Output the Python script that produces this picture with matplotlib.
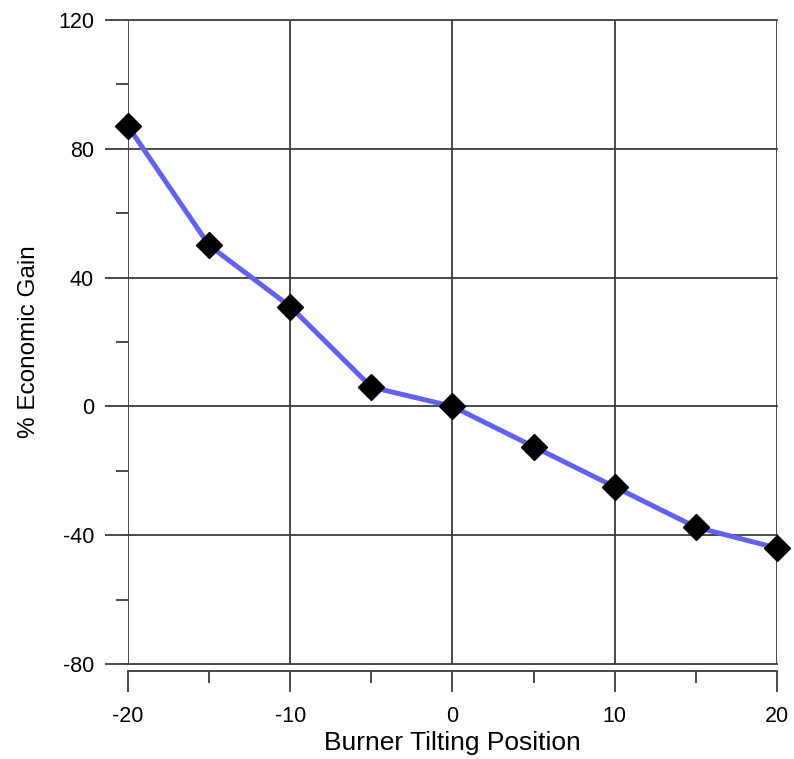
import matplotlib
matplotlib.use('Agg')
import matplotlib.pyplot as plt
from matplotlib.ticker import MultipleLocator

# burner tilt vs economic gain
tilt = [-20, -15, -10, -5, 0, 5, 10, 15, 20]
gain = [87, 50, 31, 6, 0, -12.5, -25, -37.5, -44]

plt.rcParams['font.family'] = ['Liberation Sans', 'DejaVu Sans']
plt.rcParams['axes.unicode_minus'] = False
grid_col = '#3c3c3c'

fig = plt.figure(figsize=(7.94, 7.59), dpi=100)
ax = fig.add_axes([128/794, 1 - 664/759, (777 - 128)/794, (664 - 20)/759])

ax.plot(tilt, gain, color='#6262ee', lw=3.6, zorder=3,
        marker='D', ms=13, mfc='black', mec='black', clip_on=False)

ax.set_xlim(-20, 20)
ax.set_ylim(-80, 120)
ax.xaxis.set_major_locator(MultipleLocator(10))
ax.xaxis.set_minor_locator(MultipleLocator(5))
ax.yaxis.set_major_locator(MultipleLocator(40))
ax.yaxis.set_minor_locator(MultipleLocator(20))

ax.grid(True, which='major', color=grid_col, lw=1.3)
for gl in ax.get_xgridlines() + ax.get_ygridlines():
    gl.set_clip_on(False)

for s in ['top', 'right', 'left']:
    ax.spines[s].set_visible(False)
ax.spines['bottom'].set_position(('outward', 5))
ax.spines['bottom'].set_color(grid_col)
ax.spines['bottom'].set_linewidth(1.3)

ax.tick_params(axis='x', which='major', length=15, width=1.3, color=grid_col,
               labelsize=15.5, pad=10)
ax.tick_params(axis='x', which='minor', length=8.5, width=1.3, color=grid_col)
ax.tick_params(axis='y', which='major', length=16.5, width=1.3, color=grid_col,
               labelsize=15.5, pad=8)
ax.tick_params(axis='y', which='minor', length=8.5, width=1.3, color=grid_col)

ax.set_xlabel('Burner Tilting Position', fontsize=19, labelpad=3)
ax.set_ylabel('% Economic Gain', fontsize=17.5, labelpad=13)

plt.savefig('out.png', dpi=100)
